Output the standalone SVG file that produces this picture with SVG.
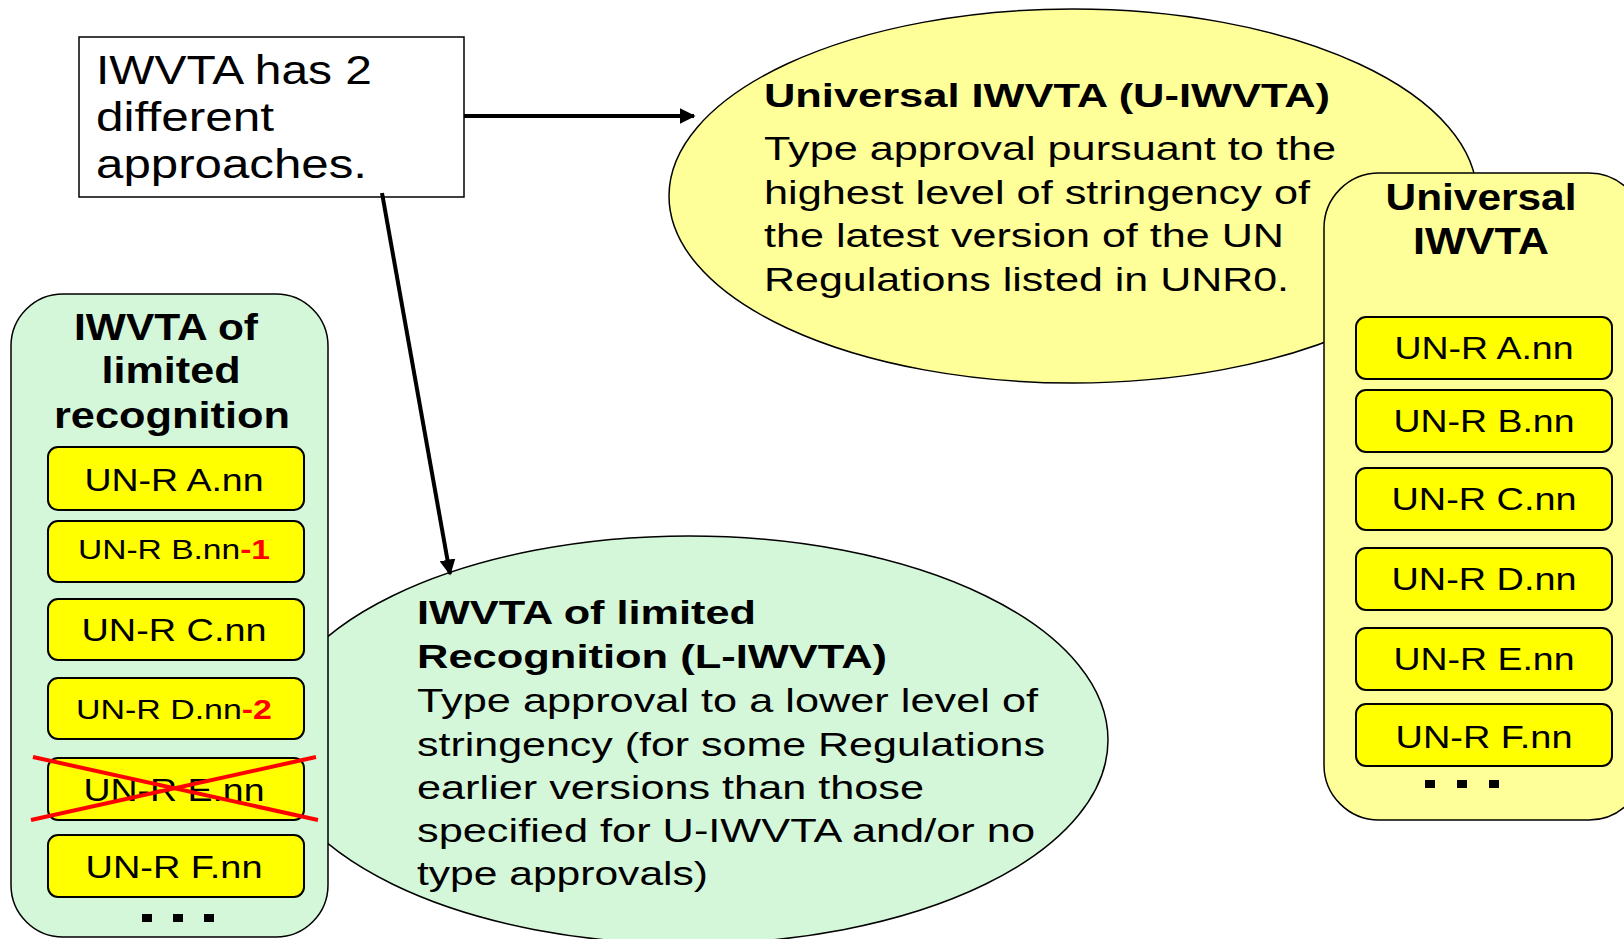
<svg xmlns="http://www.w3.org/2000/svg" width="1624" height="939" viewBox="0 0 1624 939">
<defs>
<style>
.t{font-family:"Liberation Sans",Arial,sans-serif;fill:#000}
.b{font-weight:bold}
.big{font-size:40px}
.el{font-size:34px}
.ttl{font-size:36px;font-weight:bold}
.it{font-size:32px;text-anchor:middle}
.its{font-size:28px;text-anchor:middle}
.red{fill:#FF0000;font-weight:bold}
.item{fill:#FFFF00;stroke:#000;stroke-width:2}
.conn{stroke:#000;stroke-width:4;fill:none}
.dot{fill:#000}
</style>
<marker id="ah" viewBox="0 0 10 10" refX="9" refY="5" markerWidth="4" markerHeight="4" orient="auto" markerUnits="strokeWidth">
<path d="M0,0 L10,5 L0,10 z" fill="#000"/>
</marker>
</defs>
<rect width="1624" height="939" fill="#FFFFFF"/>

<g id="u-iwvta-ellipse">
<ellipse cx="1073" cy="196" rx="404" ry="187" fill="#FFFF99" stroke="#000" stroke-width="1.5"/>
<text class="t b el" x="764" y="107" textLength="566" lengthAdjust="spacingAndGlyphs">Universal IWVTA (U-IWVTA)</text>
<text class="t el" x="764" y="160" textLength="572" lengthAdjust="spacingAndGlyphs">Type approval pursuant to the</text>
<text class="t el" x="764" y="204" textLength="546" lengthAdjust="spacingAndGlyphs">highest level of stringency of</text>
<text class="t el" x="764" y="247" textLength="520" lengthAdjust="spacingAndGlyphs">the latest version of the UN</text>
<text class="t el" x="764" y="291" textLength="525" lengthAdjust="spacingAndGlyphs">Regulations listed in UNR0.</text>
</g>

<g id="l-iwvta-ellipse">
<ellipse cx="689" cy="740" rx="419" ry="204" fill="#D5F7D9" stroke="#000" stroke-width="1.5"/>
<text class="t b el" x="417" y="624" textLength="339" lengthAdjust="spacingAndGlyphs">IWVTA of limited</text>
<text class="t b el" x="417" y="668" textLength="470" lengthAdjust="spacingAndGlyphs">Recognition (L-IWVTA)</text>
<text class="t el" x="417" y="712" textLength="621" lengthAdjust="spacingAndGlyphs">Type approval to a lower level of</text>
<text class="t el" x="417" y="756" textLength="628" lengthAdjust="spacingAndGlyphs">stringency (for some Regulations</text>
<text class="t el" x="417" y="799" textLength="507" lengthAdjust="spacingAndGlyphs">earlier versions than those</text>
<text class="t el" x="417" y="842" textLength="618" lengthAdjust="spacingAndGlyphs">specified for U-IWVTA and/or no</text>
<text class="t el" x="417" y="885" textLength="291" lengthAdjust="spacingAndGlyphs">type approvals)</text>
</g>

<g id="intro-box">
<rect x="79" y="37" width="385" height="160" fill="#FFFFFF" stroke="#000" stroke-width="1.5"/>
<text class="t big" x="96" y="84" textLength="276" lengthAdjust="spacingAndGlyphs">IWVTA has 2</text>
<text class="t big" x="96" y="131" textLength="178" lengthAdjust="spacingAndGlyphs">different</text>
<text class="t big" x="96" y="178" textLength="271" lengthAdjust="spacingAndGlyphs">approaches.</text>
</g>

<g id="universal-box">
<rect x="1324" y="173" width="320" height="647" rx="55" ry="55" fill="#FFFF99" stroke="#000" stroke-width="1.5"/>
<text class="t ttl" x="1481" y="210" text-anchor="middle" textLength="191" lengthAdjust="spacingAndGlyphs">Universal</text>
<text class="t ttl" x="1481" y="254" text-anchor="middle" textLength="136" lengthAdjust="spacingAndGlyphs">IWVTA</text>
<rect class="item" x="1356" y="317" width="256" height="62" rx="10"/>
<text class="t it" x="1484" y="359" textLength="179" lengthAdjust="spacingAndGlyphs">UN-R A.nn</text>
<rect class="item" x="1356" y="390" width="256" height="62" rx="10"/>
<text class="t it" x="1484" y="432" textLength="181" lengthAdjust="spacingAndGlyphs">UN-R B.nn</text>
<rect class="item" x="1356" y="468" width="256" height="62" rx="10"/>
<text class="t it" x="1484" y="510" textLength="185" lengthAdjust="spacingAndGlyphs">UN-R C.nn</text>
<rect class="item" x="1356" y="548" width="256" height="62" rx="10"/>
<text class="t it" x="1484" y="590" textLength="185" lengthAdjust="spacingAndGlyphs">UN-R D.nn</text>
<rect class="item" x="1356" y="628" width="256" height="62" rx="10"/>
<text class="t it" x="1484" y="670" textLength="181" lengthAdjust="spacingAndGlyphs">UN-R E.nn</text>
<rect class="item" x="1356" y="704" width="256" height="62" rx="10"/>
<text class="t it" x="1484" y="748" textLength="177" lengthAdjust="spacingAndGlyphs">UN-R F.nn</text>
<rect class="dot" x="1425" y="780" width="10" height="8"/>
<rect class="dot" x="1457" y="780" width="10" height="8"/>
<rect class="dot" x="1489" y="780" width="10" height="8"/>
</g>

<g id="limited-box">
<rect x="11" y="294" width="317" height="643" rx="52" ry="52" fill="#D5F7D9" stroke="#000" stroke-width="1.5"/>
<text class="t ttl" x="166" y="340" text-anchor="middle" textLength="184" lengthAdjust="spacingAndGlyphs">IWVTA of</text>
<text class="t ttl" x="171" y="383" text-anchor="middle" textLength="139" lengthAdjust="spacingAndGlyphs">limited</text>
<text class="t ttl" x="172" y="428" text-anchor="middle" textLength="236" lengthAdjust="spacingAndGlyphs">recognition</text>
<rect class="item" x="48" y="447" width="256" height="63" rx="10"/>
<text class="t it" x="174" y="491" textLength="179" lengthAdjust="spacingAndGlyphs">UN-R A.nn</text>
<rect class="item" x="48" y="521" width="256" height="61" rx="10"/>
<text class="t its" x="174" y="559" textLength="192" lengthAdjust="spacingAndGlyphs">UN-R B.nn<tspan class="red">-1</tspan></text>
<rect class="item" x="48" y="599" width="256" height="61" rx="10"/>
<text class="t it" x="174" y="641" textLength="185" lengthAdjust="spacingAndGlyphs">UN-R C.nn</text>
<rect class="item" x="48" y="678" width="256" height="61" rx="10"/>
<text class="t its" x="174" y="719" textLength="196" lengthAdjust="spacingAndGlyphs">UN-R D.nn<tspan class="red">-2</tspan></text>
<rect class="item" x="48" y="758" width="256" height="62" rx="10"/>
<text class="t it" x="174" y="801" textLength="181" lengthAdjust="spacingAndGlyphs">UN-R E.nn</text>
<line x1="33" y1="757" x2="318" y2="820" stroke="#FF0000" stroke-width="4"/>
<line x1="31" y1="820" x2="316" y2="757" stroke="#FF0000" stroke-width="4"/>
<rect class="item" x="48" y="835" width="256" height="62" rx="10"/>
<text class="t it" x="174" y="878" textLength="177" lengthAdjust="spacingAndGlyphs">UN-R F.nn</text>
<rect class="dot" x="142" y="914" width="10" height="8"/>
<rect class="dot" x="173" y="914" width="10" height="8"/>
<rect class="dot" x="204" y="914" width="10" height="8"/>
</g>

<g id="connectors">
<line class="conn" x1="464" y1="116" x2="694" y2="116" marker-end="url(#ah)"/>
<line class="conn" x1="382" y1="193" x2="450" y2="574" marker-end="url(#ah)"/>
</g>
</svg>
